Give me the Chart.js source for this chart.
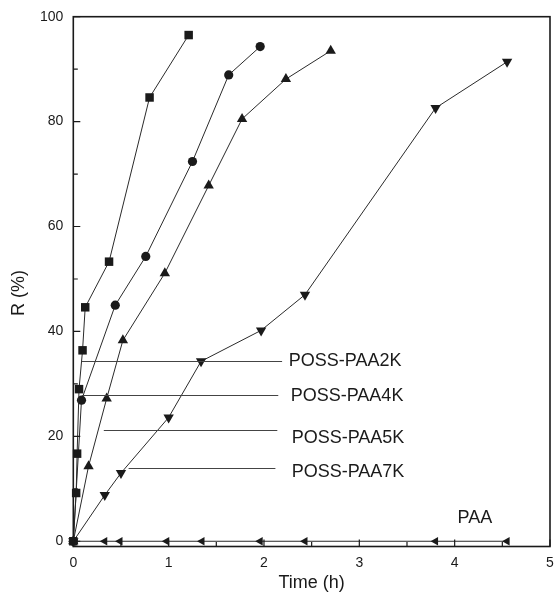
<!DOCTYPE html>
<html>
<head>
<meta charset="utf-8">
<script src="https://cdn.jsdelivr.net/npm/chart.js@4"></script>
<style>
  html, body { margin: 0; padding: 0; background: #ffffff; }
  #wrap { width: 556px; height: 602px; }
</style>
</head>
<body>
<div id="wrap"><canvas id="c" width="556" height="602"></canvas></div>
<script>
// ---- data ----
const time2K = [0, 0.03, 0.04, 0.06, 0.097, 0.125, 0.375, 0.80, 1.21];
const r2K    = [0, 9.2, 16.7, 29.0, 36.4, 44.6, 53.3, 84.6, 96.5];

const time4K = [0, 0.086, 0.44, 0.76, 1.25, 1.63, 1.96];
const r4K    = [0, 26.9, 45.0, 54.3, 72.4, 88.9, 94.3];

const time5K = [0, 0.16, 0.35, 0.52, 0.96, 1.42, 1.77, 2.23, 2.70];
const r5K    = [0, 14.3, 27.2, 38.3, 51.1, 67.8, 80.5, 88.1, 93.5];

const time7K = [0, 0.33, 0.50, 1.00, 1.34, 1.97, 2.43, 3.80, 4.55];
const r7K    = [0, 8.8, 13.0, 23.6, 34.3, 40.2, 47.0, 82.6, 91.4];

const timePAA = [0, 0.33, 0.49, 0.98, 1.35, 1.96, 2.43, 3.80, 4.55];
const rPAA    = [0, 0, 0, 0, 0, 0, 0, 0, 0];

const seriesNames = ['POSS-PAA2K', 'POSS-PAA4K', 'POSS-PAA5K', 'POSS-PAA7K', 'PAA'];

const xTicks = [0, 1, 2, 3, 4, 5];
const yTicks = [0, 20, 40, 60, 80, 100];

// leader-line labels (data units): line y, line start x, line end x, text x, text y
const labelNames  = ['POSS-PAA2K', 'POSS-PAA4K', 'POSS-PAA5K', 'POSS-PAA7K'];
const labelLineY  = [34.4, 27.9, 21.2, 13.9];
const labelLineX0 = [0.09, 0.09, 0.32, 0.58];
const labelLineX1 = [2.19, 2.15, 2.14, 2.12];
const labelTextX  = [2.26, 2.28, 2.29, 2.29];
const labelTextY  = [34.3, 27.7, 19.7, 13.2];
const paaLabel = { text: 'PAA', x: 4.03, y: 4.5 };

const xTitle = 'Time (h)';
const yTitle = 'R (%)';

// ---- build datasets ----
function pts(xs, ys) { return xs.map((x, i) => ({ x: x, y: ys[i] })); }
const FONT = '"Liberation Sans", Arial, Helvetica, sans-serif';
const INK = '#1a1a1a';

function ds(label, xs, ys, style, radius, rotation) {
  return {
    label: label,
    data: pts(xs, ys),
    showLine: true,
    borderColor: '#2a2a2a',
    borderWidth: 1,
    backgroundColor: INK,
    pointBackgroundColor: INK,
    pointBorderColor: INK,
    pointBorderWidth: 0,
    pointStyle: style,
    pointRadius: radius,
    pointRotation: rotation,
    pointHoverRadius: radius,
    tension: 0,
    clip: false
  };
}

const decor = {
  id: 'decor',
  afterDraw(chart) {
    const ctx = chart.ctx;
    const a = chart.chartArea;
    const xs = chart.scales.x, ys = chart.scales.y;
    ctx.save();
    // frame
    ctx.strokeStyle = INK;
    ctx.lineWidth = 1.6;
    ctx.strokeRect(a.left, a.top, a.right - a.left, a.bottom - a.top);
    // inward ticks
    ctx.lineWidth = 1.2;
    ctx.beginPath();
    for (let v = 0; v <= 5.001; v += 0.5) {
      const px = xs.getPixelForValue(v);
      const len = (Math.abs(v - Math.round(v)) < 1e-6) ? 7 : 4.5;
      ctx.moveTo(px, a.bottom);
      ctx.lineTo(px, a.bottom - len);
    }
    for (let v = 0; v <= 100.001; v += 10) {
      const py = ys.getPixelForValue(v);
      const len = (v % 20 === 0) ? 7 : 4.5;
      ctx.moveTo(a.left, py);
      ctx.lineTo(a.left + len, py);
    }
    ctx.stroke();
    // leader lines
    ctx.strokeStyle = '#444';
    ctx.lineWidth = 1;
    ctx.beginPath();
    for (let i = 0; i < labelNames.length; i++) {
      const y = Math.round(ys.getPixelForValue(labelLineY[i])) + 0.5;
      ctx.moveTo(xs.getPixelForValue(labelLineX0[i]), y);
      ctx.lineTo(xs.getPixelForValue(labelLineX1[i]), y);
    }
    ctx.stroke();
    // label texts
    ctx.fillStyle = INK;
    ctx.font = '18px ' + FONT;
    ctx.textAlign = 'left';
    ctx.textBaseline = 'middle';
    for (let i = 0; i < labelNames.length; i++) {
      ctx.fillText(labelNames[i], xs.getPixelForValue(labelTextX[i]), ys.getPixelForValue(labelTextY[i]));
    }
    ctx.fillText(paaLabel.text, xs.getPixelForValue(paaLabel.x), ys.getPixelForValue(paaLabel.y));
    // axis titles
    ctx.textAlign = 'center';
    ctx.fillText(xTitle, (a.left + a.right) / 2, 583);
    ctx.save();
    ctx.translate(19, 293);
    ctx.rotate(-Math.PI / 2);
    ctx.fillText(yTitle, 0, 0);
    ctx.restore();
    ctx.restore();
  }
};

new Chart(document.getElementById('c'), {
  type: 'line',
  data: {
    datasets: [
      ds(seriesNames[0], time2K, r2K, 'rect', 6, 0),
      ds(seriesNames[1], time4K, r4K, 'circle', 4.6, 0),
      ds(seriesNames[2], time5K, r5K, 'triangle', 6, 0),
      ds(seriesNames[3], time7K, r7K, 'triangle', 6, 180),
      ds(seriesNames[4], timePAA, rPAA, 'triangle', 5, 270)
    ]
  },
  options: {
    responsive: false,
    animation: false,
    events: [],
    layout: { padding: { left: 0, right: 2.3, top: 16.7, bottom: 0 } },
    plugins: { legend: { display: false }, tooltip: { enabled: false } },
    scales: {
      x: {
        type: 'linear',
        min: 0, max: 5,
        border: { display: false },
        grid: { display: false, drawTicks: false },
        afterBuildTicks(s) { s.ticks = xTicks.map(v => ({ value: v })); },
        afterFit(s) { s.height = 55.5; s.paddingLeft = 0; s.paddingRight = 0; },
        ticks: {
          padding: 8,
          maxRotation: 0,
          autoSkip: false,
          color: INK,
          font: { family: FONT, size: 14 }
        },
        title: { display: false }
      },
      y: {
        type: 'linear',
        min: -1, max: 100,
        border: { display: false },
        grid: { display: false, drawTicks: false },
        afterBuildTicks(s) { s.ticks = yTicks.map(v => ({ value: v })); },
        afterFit(s) { s.width = 73.3; s.paddingTop = 0; s.paddingBottom = 0; },
        ticks: {
          padding: 10,
          autoSkip: false,
          color: INK,
          font: { family: FONT, size: 14 }
        },
        title: { display: false }
      }
    }
  },
  plugins: [decor]
});
</script>
</body>
</html>
